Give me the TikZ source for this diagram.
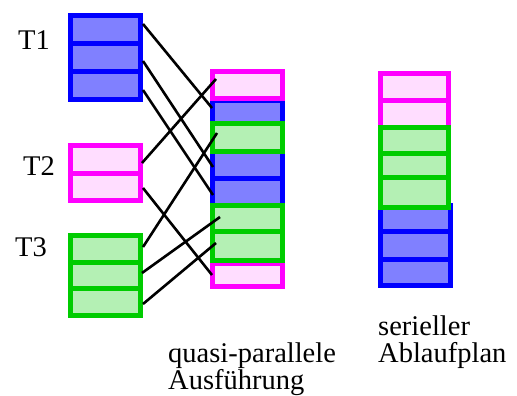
\documentclass[tikz,border=0pt]{standalone}
\usepackage{fontspec}
\setmainfont{Liberation Serif}
\usetikzlibrary{calc}

\definecolor{blueline}{RGB}{0,0,255}
\definecolor{bluefill}{RGB}{128,128,255}
\definecolor{pinkline}{RGB}{255,0,255}
\definecolor{pinkfill}{RGB}{255,221,255}
\definecolor{greenline}{RGB}{0,204,0}
\definecolor{greenfill}{RGB}{180,240,180}

\tikzset{
  cell/.style={draw, line width=5pt, outer sep=0pt, inner sep=0pt},
  bcell/.style={cell, draw=blueline, fill=bluefill},
  pcell/.style={cell, draw=pinkline, fill=pinkfill},
  gcell/.style={cell, draw=greenline, fill=greenfill},
  lbl/.style={inner sep=0pt, font=\fontsize{28.5}{27}\selectfont},
  link/.style={draw=black, line width=2.6pt},
}

% \cellbox{name}{style}{x1}{y1}{x2}{y2}: a cell whose border runs along the given corners
\newcommand\cellbox[6]{%
  \node[#2, minimum width={(#5)-(#3)}, minimum height={(#6)-(#4)}]
    (#1) at ({((#3)+(#5))/2},{((#4)+(#6))/2}) {};}

\begin{document}
\begin{tikzpicture}[x=1pt, y=-1pt]
  \useasboundingbox (0,0) rectangle (517,396);

  % task T1
  \cellbox{t1a}{bcell}{70.5}{15.5}{140.5}{43.5}
  \cellbox{t1b}{bcell}{70.5}{43.5}{140.5}{71.5}
  \cellbox{t1c}{bcell}{70.5}{71.5}{140.5}{99.5}
  % task T2
  \cellbox{t2a}{pcell}{70.5}{145.5}{140.5}{173}
  \cellbox{t2b}{pcell}{70.5}{173}{140.5}{200.5}
  % task T3
  \cellbox{t3a}{gcell}{70.5}{235.5}{140.5}{262}
  \cellbox{t3b}{gcell}{70.5}{262}{140.5}{288.5}
  \cellbox{t3c}{gcell}{70.5}{288.5}{140.5}{315}

  \node[lbl, anchor=base west] (l1) at (18,50) {T1};
  \node[lbl, anchor=base west] (l2) at (23,175) {T2};
  \node[lbl, anchor=base west] (l3) at (15,256) {T3};

  % interleaved execution
  \cellbox{mb1}{bcell}{212.5}{100}{282.5}{124}
  \cellbox{mb2}{bcell}{212.5}{151.5}{282.5}{178}
  \cellbox{mb3}{bcell}{212.5}{178}{282.5}{205.5}
  \cellbox{mp1}{pcell}{212.5}{71.5}{282.5}{98.5}
  \cellbox{mp2}{pcell}{212.5}{263}{282.5}{286.5}
  \cellbox{mg1}{gcell}{212.5}{123.5}{282.5}{151.5}
  \cellbox{mg2}{gcell}{212.5}{205.5}{282.5}{231}
  \cellbox{mg3}{gcell}{212.5}{231}{282.5}{260.5}

  % serial schedule
  \cellbox{sb1}{bcell}{380.5}{205.8}{450.5}{231.5}
  \cellbox{sb2}{bcell}{380.5}{231.5}{450.5}{259.2}
  \cellbox{sb3}{bcell}{380.5}{259.2}{450.5}{285.2}
  \cellbox{sp1}{pcell}{380.5}{73.5}{448.5}{100.3}
  \cellbox{sp2}{pcell}{380.5}{100.3}{448.5}{127.5}
  \cellbox{sg1}{gcell}{380.5}{127.5}{448.5}{153.3}
  \cellbox{sg2}{gcell}{380.5}{153.3}{448.5}{177.5}
  \cellbox{sg3}{gcell}{380.5}{177.5}{448.5}{207.5}

  % where each slice ends up
  \draw[link] ($(t1a.east)+(2.5,-5.5)$) -- ($(mb1.west)+(-0.5,-4)$);
  \draw[link] ($(t1b.east)+(2.5,3.5)$)  -- ($(mb2.west)+(0.5,2.25)$);
  \draw[link] ($(t1c.east)+(2.5,4.5)$)  -- ($(mb3.west)+(0.5,3.25)$);
  \draw[link] ($(t2a.east)+(1.5,3.75)$) -- ($(mp1.west)+(3.5,-6)$);
  \draw[link] ($(t2b.east)+(2.5,1.25)$) -- ($(mp2.west)+(-0.5,0.25)$);
  \draw[link] ($(t3a.east)+(2.5,-1.75)$) -- ($(mg1.west)+(4.5,-4.5)$);
  \draw[link] ($(t3b.east)+(1.5,-2.25)$) -- ($(mg2.west)+(7.5,-1.25)$);
  \draw[link] ($(t3c.east)+(2.5,2.25)$)  -- ($(mg3.west)+(3.5,-2.75)$);

  % captions (anchored at the baseline of their last line)
  \node[lbl, anchor=base west, align=left] (qp) at (168,389) {quasi-parallele\\Ausführung};
  \node[lbl, anchor=base west, align=left] (sa) at (378,362) {serieller\\Ablaufplan};
\end{tikzpicture}
\end{document}
